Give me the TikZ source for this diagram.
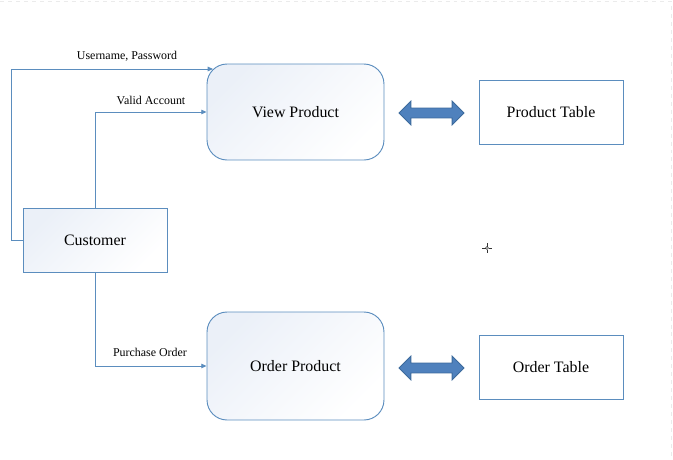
\documentclass[tikz,border=0pt]{standalone}
\usepackage{fontspec}
\setmainfont{Liberation Serif}
\usetikzlibrary{shapes.arrows,arrows.meta}

\definecolor{edgeblue}{HTML}{5B8DBE}
\definecolor{shadeblue}{HTML}{EBF0F8}
\definecolor{arrowblue}{HTML}{4F81BD}
\definecolor{arrowedge}{HTML}{3C6A9C}

\tikzset{process/.style={draw=edgeblue,rounded corners=0.53cm,top color=shadeblue,bottom color=white,shading angle=45,
  minimum width=4.69cm,minimum height=2.544cm,font=\fontsize{12}{14}\selectfont},
table/.style={draw=edgeblue,minimum width=3.816cm,minimum height=1.696cm,font=\fontsize{12}{14}\selectfont},
entity/.style={draw=edgeblue,top color=shadeblue,bottom color=white,shading angle=45,
  minimum width=3.816cm,minimum height=1.696cm,font=\fontsize{12}{14}\selectfont},
link/.style={double arrow,draw=arrowedge,fill=arrowblue,minimum height=1.72cm,minimum width=0.58cm,
  inner sep=0.12cm,double arrow head extend=0.18cm},
flow/.style={draw=edgeblue,-{Triangle[length=0.14cm,width=0.12cm]}},
flow label/.style={font=\fontsize{9}{11}\selectfont,inner sep=0.03cm}}

\begin{document}
\begin{tikzpicture}[x=0.0265cm,y=-0.0265cm,line width=0.7pt]
\useasboundingbox (0,0) rectangle (673,460);

%% page edge
\draw [black!8,dashed,thin] (0,1) -- (671,1) -- (671,460);

%% processes and tables
\node [process] (vp) at (295.5,112) {View Product};
\node [process,minimum height=2.862cm] (op) at (295.5,366) {Order Product};
\node [table] (pt) at (551,112) {Product Table};
\node [table] (ot) at (551,367) {Order Table};
\node [entity] (cust) at (95,240) {Customer};

%% links between process and table
\node [link] (la) at (431.5,113) {};
\node [link] (lb) at (431.5,368) {};

%% free ends of the login flow
\coordinate (c1) at (11,240);
\coordinate (c2) at (11,69);
\coordinate (vpin) at (213,69);

%% flows
\draw [flow] (cust.west) -- (c1) -- (c2) -- (vpin);
\draw [flow] (cust.north) |- (vp.west);
\draw [flow] (cust.south) |- (op.west);

%% flow labels
\node [flow label] (l1) at (127,56) {Username, Password};
\node [flow label] (l2) at (151,100) {Valid Account};
\node [flow label] (l3) at (150,352) {Purchase Order};

%% cursor
\draw [black!80,thin] (482,248) -- (485.5,248) (488.5,248) -- (492,248)
  (487,243) -- (487,246.5) (487,249.5) -- (487,253);
\draw [black!80,thin] (487,248) circle (1.5);
\end{tikzpicture}
\end{document}
